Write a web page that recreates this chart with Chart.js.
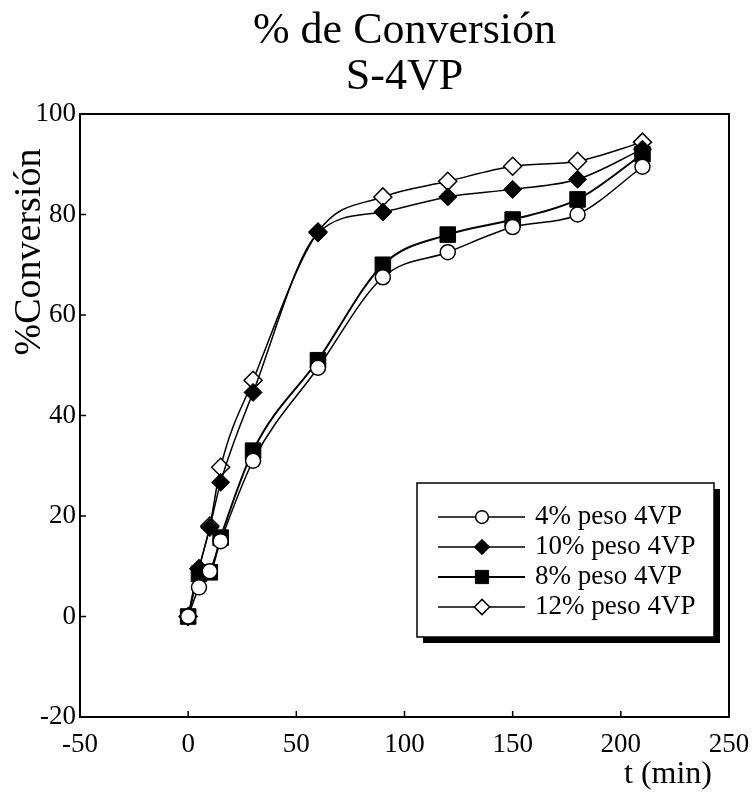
<!DOCTYPE html>
<html>
<head>
<meta charset="utf-8">
<script src="https://cdn.jsdelivr.net/npm/chart.js@4"></script>
<style>
body{margin:0;background:#fff;}
</style>
</head>
<body>
<canvas id="convChart" width="752" height="806"></canvas>
<script>
// data
const tiempo = [0, 5, 10, 15, 30, 60, 90, 120, 150, 180, 210];
const conv4 = [0, 5.8, 9, 15, 31, 49.5, 67.5, 72.5, 77.5, 80, 89.5];
const conv10 = [0, 9.5, 17.7, 26.7, 44.6, 76.3, 80.5, 83.5, 85, 87, 93];
const conv8 = [0, 8.5, 8.8, 15.7, 33, 51, 70, 76, 79, 83, 92];
const conv12 = [0, 9.5, 18, 29.7, 47, 76.5, 83.5, 86.6, 89.6, 90.6, 94.4];
const seriesNames = ['4% peso 4VP', '10% peso 4VP', '8% peso 4VP', '12% peso 4VP'];
const xTicks = [-50, 0, 50, 100, 150, 200, 250];
const yTicks = [-20, 0, 20, 40, 60, 80, 100];

Chart.defaults.font.family = "'Liberation Serif', 'Times New Roman', serif";
Chart.defaults.color = '#000';

function pts(ys){
    return tiempo.map((t, i) => ({x: t, y: ys[i]}));
}

// box round the plot + small inner ticks
const framePlugin = {
    id: 'frame',
    beforeDatasetsDraw(chart){
        const {ctx, chartArea: a, scales} = chart;
        ctx.save();
        ctx.strokeStyle = '#000';
        ctx.lineWidth = 2;
        ctx.strokeRect(a.left, a.top, a.right - a.left, a.bottom - a.top);
        ctx.lineWidth = 1.5;
        ctx.beginPath();
        scales.x.ticks.forEach(t => {
            const px = scales.x.getPixelForValue(t.value);
            ctx.moveTo(px, a.bottom);
            ctx.lineTo(px, a.bottom - 6);
        });
        scales.y.ticks.forEach(t => {
            const py = scales.y.getPixelForValue(t.value);
            ctx.moveTo(a.left, py);
            ctx.lineTo(a.left + 6, py);
        });
        ctx.stroke();
        ctx.restore();
    }
};

// titles + boxed legend with shadow
const extrasPlugin = {
    id: 'extras',
    afterDraw(chart){
        const {ctx, chartArea: a} = chart;
        const midX = (a.left + a.right) / 2;
        ctx.save();
        ctx.fillStyle = '#000';
        ctx.textAlign = 'center';
        ctx.textBaseline = 'middle';
        ctx.font = "44px 'Liberation Serif'";
        ctx.fillText('% de Conversión', midX, 31);
        ctx.fillText('S-4VP', midX, 77);
        ctx.restore();

        ctx.save();
        ctx.fillStyle = '#000';
        ctx.font = "38px 'Liberation Serif'";
        ctx.textAlign = 'center';
        ctx.textBaseline = 'middle';
        ctx.translate(30, 252);
        ctx.rotate(-Math.PI / 2);
        ctx.fillText('%Conversión', 0, 0);
        ctx.restore();

        ctx.save();
        ctx.fillStyle = '#000';
        ctx.font = "32px 'Liberation Serif'";
        ctx.textAlign = 'center';
        ctx.textBaseline = 'middle';
        ctx.fillText('t (min)', 668, 775);
        ctx.restore();

        // legend
        const lx = 417, ly = 483, lw = 297, lh = 154;
        ctx.save();
        ctx.fillStyle = '#000';
        ctx.fillRect(lx + 6, ly + 6, lw, lh);
        ctx.fillStyle = '#fff';
        ctx.fillRect(lx, ly, lw, lh);
        ctx.strokeStyle = '#000';
        ctx.lineWidth = 1.5;
        ctx.strokeRect(lx, ly, lw, lh);
        chart.data.datasets.forEach((ds, i) => {
            const ry = ly + 34 + i * 30;
            ctx.strokeStyle = '#000';
            ctx.lineWidth = ds.borderWidth;
            ctx.beginPath();
            ctx.moveTo(lx + 21, ry);
            ctx.lineTo(lx + 108, ry);
            ctx.stroke();
            ctx.fillStyle = ds.pointBackgroundColor;
            ctx.strokeStyle = ds.pointBorderColor;
            ctx.lineWidth = ds.pointBorderWidth;
            Chart.helpers.drawPoint(ctx, {
                pointStyle: ds.pointStyle,
                radius: ds.pointRadius * 0.85,
                rotation: 0,
                borderWidth: ds.pointBorderWidth
            }, lx + 65, ry);
            ctx.fillStyle = '#000';
            ctx.font = "27px 'Liberation Serif'";
            ctx.textAlign = 'left';
            ctx.textBaseline = 'middle';
            ctx.fillText(ds.label, lx + 118, ry);
        });
        ctx.restore();
    }
};

const ctx = document.getElementById('convChart').getContext('2d');
const convChart = new Chart(ctx, {
    type: 'line',
    data: {
        datasets: [{
            label: seriesNames[0],
            data: pts(conv4),
            borderColor: '#000',
            borderWidth: 1.5,
            pointStyle: 'circle',
            pointRadius: 7.5,
            pointBackgroundColor: '#fff',
            pointBorderColor: '#000',
            pointBorderWidth: 1.5
        }, {
            label: seriesNames[1],
            data: pts(conv10),
            borderColor: '#000',
            borderWidth: 1.5,
            pointStyle: 'rectRot',
            pointRadius: 9,
            pointBackgroundColor: '#000',
            pointBorderColor: '#000',
            pointBorderWidth: 1
        }, {
            label: seriesNames[2],
            data: pts(conv8),
            borderColor: '#000',
            borderWidth: 2,
            pointStyle: 'rect',
            pointRadius: 11,
            pointBackgroundColor: '#000',
            pointBorderColor: '#000',
            pointBorderWidth: 1
        }, {
            label: seriesNames[3],
            data: pts(conv12),
            borderColor: '#000',
            borderWidth: 1.5,
            pointStyle: 'rectRot',
            pointRadius: 9,
            pointBackgroundColor: '#fff',
            pointBorderColor: '#000',
            pointBorderWidth: 1.5
        }]
    },
    options: {
        responsive: false,
        animation: false,
        layout: {padding: {left: 0, right: 23, top: 114, bottom: 0}},
        elements: {line: {cubicInterpolationMode: 'monotone', fill: false}},
        plugins: {
            legend: {display: false},
            tooltip: {enabled: false}
        },
        scales: {
            x: {
                type: 'linear',
                min: -50,
                max: 250,
                afterBuildTicks: s => { s.ticks = xTicks.map(v => ({value: v})); },
                afterFit: s => { s.height = 89; s.paddingLeft = 0; s.paddingRight = 0; },
                grid: {display: false, drawTicks: false},
                border: {display: false},
                ticks: {font: {size: 27}, padding: 12, maxRotation: 0}
            },
            y: {
                type: 'linear',
                min: -20,
                max: 100,
                afterBuildTicks: s => { s.ticks = yTicks.map(v => ({value: v})); },
                afterFit: s => { s.width = 80; s.paddingTop = 0; s.paddingBottom = 0; },
                grid: {display: false, drawTicks: false},
                border: {display: false},
                ticks: {font: {size: 27}, padding: 4}
            }
        }
    },
    plugins: [framePlugin, extrasPlugin]
});
</script>
</body>
</html>
